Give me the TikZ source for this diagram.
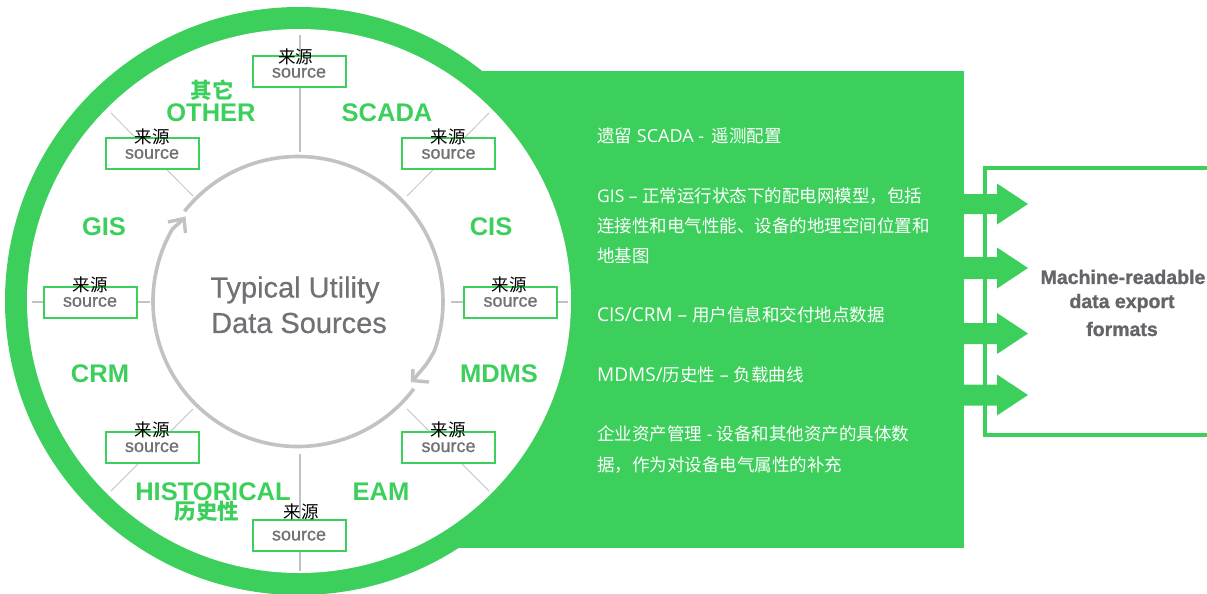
\documentclass[tikz,border=0pt]{standalone}
\usepackage{fontspec}
\setmainfont{Liberation Sans}
\newfontfamily\cjk{Noto Sans CJK SC}
\newfontfamily\lat{Open Sans}
\newfontfamily\srcf[FakeBold=0.8]{Liberation Sans}
\newfontfamily\ttlf[FakeBold=0.4]{Liberation Sans}
\newfontfamily\fmtf[FakeBold=1.2]{Liberation Sans Bold}
\definecolor{grn}{HTML}{3DCF5C}
\definecolor{spk}{HTML}{C2C2C4}
\definecolor{txtg}{HTML}{707075}
\tikzset{
  srcbox/.style={draw=grn,line width=2pt,fill=white,minimum width=93pt,minimum height=31pt,inner sep=0pt,text=txtg,font=\srcf\fontsize{18}{18}\selectfont},
  zh/.style={text=black,font=\cjk\fontsize{17.5}{18}\selectfont,inner sep=0pt},
  lab/.style={text=grn,font=\bfseries\fontsize{25.5}{26}\selectfont,inner sep=0pt},
  labzh/.style={text=grn,font=\cjk\bfseries\fontsize{21.5}{22}\selectfont,inner sep=0pt},
  body/.style={text=white,anchor=base west,font=\cjk\fontsize{17.5}{18}\selectfont,inner sep=0pt},
  title/.style={text=txtg,font=\ttlf\fontsize{29}{30}\selectfont,inner sep=0pt},
  fmt/.style={text=txtg!90!black,font=\fmtf\fontsize{19.5}{20}\selectfont,inner sep=0pt},
  spoke/.style={draw=spk,line width=1.6pt},
  diag/.style={draw=spk,line width=0.8pt},
  loop/.style={draw=spk,line width=3.6pt},
  hd/.style={draw=spk,line width=3.4pt,line cap=butt,line join=miter},
  blockarrow/.style={fill=grn,draw=none}
}
\newcommand{\srctxt}[1]{\raisebox{-#1pt}[0pt][0pt]{source}}
\newcommand{\lt}[2]{{\lat\fontsize{#1}{18}\selectfont #2}}
\begin{document}
\begin{tikzpicture}[x=1pt,y=-1pt]
\useasboundingbox (0,0) rectangle (1207,594);
% output frame
\coordinate (fa) at (1207,168);
\coordinate (fb) at (985,168);
\coordinate (fc) at (985,435);
\coordinate (fd) at (1207,435);
\draw[grn,line width=4pt] (fa) -- (fb) -- (fc) -- (fd);
% panel and ring
\node[fill=grn,draw=none,minimum width=524pt,minimum height=477pt,inner sep=0pt,anchor=north west] (panel) at (440,71) {};
\node[circle,fill=grn,draw=none,minimum size=588pt,inner sep=0pt] (ring) at (299,301) {};
\node[circle,fill=white,draw=none,minimum size=544pt,inner sep=0pt] (inner) at (299,301) {};
% block arrows
\foreach \n/\y/\h in {a/204/10,b/268/11,c/333.5/10.5,d/395/10.5}{
  \fill[blockarrow] (960,\y-\h) -- (997,\y-\h) -- (997,\y-20.5) -- (1028,\y) -- (997,\y+20.5) -- (997,\y+\h) -- (960,\y+\h) -- cycle;
}
% spokes
\coordinate (c) at (298,301.5);
\coordinate (t1) at (300,35);   \coordinate (t2) at (300,152);
\coordinate (b1) at (300,454);  \coordinate (b2) at (300,571);
\coordinate (l1) at (32,302);   \coordinate (l2) at (150,302);
\coordinate (r1) at (451,302);  \coordinate (r2) at (568,302);
\coordinate (tl1) at (111,113); \coordinate (tl2) at (193,196);
\coordinate (tr1) at (489,113); \coordinate (tr2) at (407,196);
\coordinate (bl1) at (193,409); \coordinate (bl2) at (111,491);
\coordinate (br1) at (407,409); \coordinate (br2) at (489,491);
\draw[spoke] (t1) -- (t2);
\draw[spoke] (b1) -- (b2);
\draw[spoke] (l1) -- (l2);
\draw[spoke] (r1) -- (r2);
\draw[diag] (tl1) -- (tl2);
\draw[diag] (tr1) -- (tr2);
\draw[diag] (bl1) -- (bl2);
\draw[diag] (br1) -- (br2);
% loop
\coordinate (tipa) at (412.5,380.5);
\coordinate (tipb) at (184,218.5);
\coordinate (aup) at (413,369);
\coordinate (art) at (429,382);
\coordinate (blf) at (168,222);
\coordinate (bdn) at (185.5,233);
\coordinate (ctla) at (427,364);
\draw[loop] (c) ++(141.5:145pt) arc[start angle=141.5,end angle=-20,radius=145pt] .. controls (ctla) .. (tipa);
\draw[loop] (c) ++(-37:145pt) arc[start angle=-37,end angle=-210,radius=145pt] -- (tipb);
\draw[hd] (aup) -- (tipa) -- (art);
\draw[hd] (blf) -- (tipb) -- (bdn);
% source boxes
\node[srcbox] (s1) at (299,71.5) {\srctxt{6.1}};
\node[srcbox] (s2) at (152,153.5) {\srctxt{5.2}};
\node[srcbox] (s3) at (448.5,153.5) {\srctxt{5.2}};
\node[srcbox] (s4) at (90,302) {\srctxt{4.7}};
\node[srcbox] (s5) at (510.5,302) {\srctxt{4.7}};
\node[srcbox] (s6) at (152,447) {\srctxt{5}};
\node[srcbox] (s7) at (448.5,447) {\srctxt{5}};
\node[srcbox] (s8) at (299,535) {\srctxt{5.4}};
\node[zh] (z1) at (295.5,57) {来源};
\node[zh] (z2) at (152,137) {来源};
\node[zh] (z3) at (448,137) {来源};
\node[zh] (z4) at (90,285) {来源};
\node[zh] (z5) at (509,285) {来源};
\node[zh] (z6) at (152,430) {来源};
\node[zh] (z7) at (448,430) {来源};
\node[zh] (z8) at (301,512) {来源};
% labels
\node[lab] (other) at (211,113) {OTHER};
\node[lab] (scada) at (387,113) {SCADA};
\node[lab] (gis) at (104,227) {GIS};
\node[lab] (cis) at (491,227) {CIS};
\node[lab] (crm) at (100,374) {CRM};
\node[lab] (mdms) at (499,374) {MDMS};
\node[lab] (hist) at (213,492) {HISTORICAL};
\node[lab] (eam) at (381,492) {EAM};
\node[labzh] (qt) at (212,90) {其它};
\node[labzh] (lsx) at (207,511) {历史性};
% centre
\node[title] (tt1) at (295,290) {Typical Utility};
\node[title] (tt2) at (299,323) {Data Sources};
% body text
\node[body] (p1) at (597,142.6) {遗留\lt{18}{ SCADA - }\hspace{3pt}遥测配置};
\node[body] (p2) at (597,202) {\lt{17.5}{GIS – }正常运行状态下的配电网模型，包括};
\node[body] (p3) at (597,232) {连接性和电气性能、设备的地理空间位置和};
\node[body] (p4) at (597,262) {地基图};
\node[body] (p5) at (597,321) {\lt{19}{CIS/CRM – }用户信息和交付地点数据};
\node[body] (p6) at (597,381) {\lt{19}{MDMS/}历史性\lt{18}{ – }负载曲线};
\node[body] (p7) at (597,440) {企业资产管理\lt{17.5}{ - }设备和其他资产的具体数};
\node[body] (p8) at (597,471) {据，作为对设备电气属性的补充};
% formats
\node[fmt] (m1) at (1123,277) {Machine-readable};
\node[fmt] (m2) at (1122,303) {data export};
\node[fmt] (m3) at (1122,329) {formats};
\end{tikzpicture}
\end{document}
